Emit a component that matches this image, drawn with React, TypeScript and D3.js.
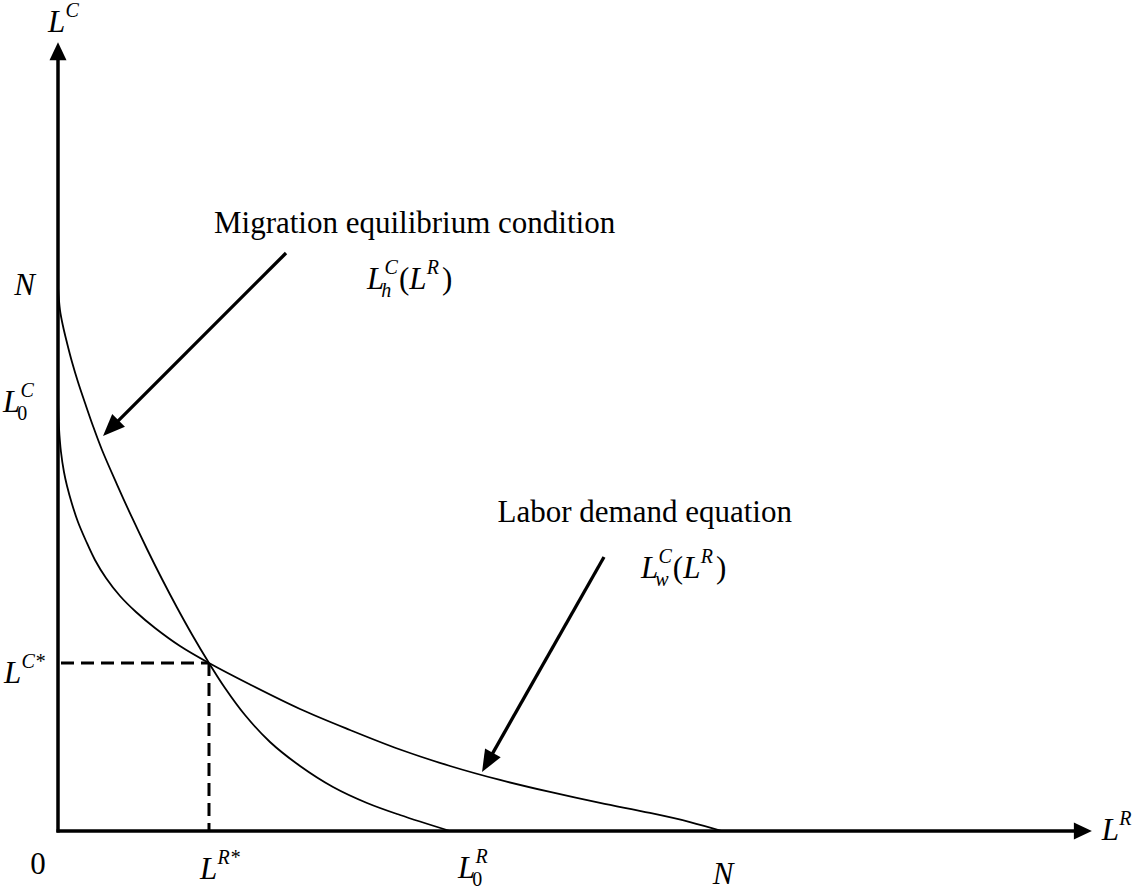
import React from 'react';
import * as d3 from 'd3';

const W = 1138;
const H = 892;
const FONT = "'Liberation Serif','Times New Roman',Times,serif";

// Model units: N = 100 on both axes
const N_VALUE = 100;
const LR_AXIS_MAX = 155.7;
const LC_AXIS_MAX = 145.0;

// Migration equilibrium condition  L_h^C(L^R)
const migrationLR = [0, 0.3, 0.75, 1.36, 2.11, 3.01, 4.07, 5.27, 6.63, 8.89, 11.14, 13.4, 15.66, 17.92, 20.18, 22.74, 25.15, 28.16, 31.93, 36.45, 41.42, 46.54, 51.51, 59.04];
const migrationLC = [100, 95.77, 92.83, 89.71, 86.21, 82.54, 78.68, 74.45, 70.04, 63.69, 57.63, 51.84, 46.32, 41.08, 36.12, 30.88, 26.29, 21.32, 16.36, 11.95, 8.09, 5.15, 2.94, 0];

// Labor demand equation  L_w^C(L^R)
const laborLR = [0, 0.15, 0.45, 0.9, 1.36, 2.11, 3.01, 4.22, 5.57, 7.23, 9.34, 11.75, 14.61, 18.37, 22.74, 28.92, 36.45, 43.98, 51.51, 59.04, 66.57, 74.1, 81.63, 89.16, 95.18, 100];
const laborLC = [79.23, 74.08, 69.67, 65.99, 63.42, 60.11, 56.8, 53.31, 49.82, 46.51, 43.2, 40.26, 37.32, 34.01, 30.88, 26.93, 22.43, 18.57, 14.98, 11.95, 9.38, 7.17, 5.15, 3.31, 1.65, 0];

// Key values
const LR_STAR = 22.74;
const LC_STAR = 30.88;
const LR_0 = 59.04;
const LC_0 = 79.23;

// Annotation arrows (model units): [from, to]
const migrationArrow = [[34.34, 106.25], [6.78, 72.61]];
const laborArrow = [[82.23, 50.37], [63.86, 10.85]];

// Annotation text anchors (model units)
const migrationTitlePos = [23.49, 109.93];
const migrationFormulaPos = [46.54, 99.63];
const laborTitleEndPos = [110.54, 56.8];
const laborFormulaPos = [87.8, 46.51];

const SIZE = 31;
const SMALL = 20;
const SUP_UP = 0.47 * SIZE;
const SUB_DOWN = 0.27 * SIZE;

function arrowHead(x1: number, y1: number, x2: number, y2: number, len: number, half: number) {
  const dx = x2 - x1, dy = y2 - y1;
  const d = Math.sqrt(dx * dx + dy * dy);
  const ux = dx / d, uy = dy / d;
  const bx = x2 - ux * len, by = y2 - uy * len;
  const px = -uy, py = ux;
  return {
    points: `${x2},${y2} ${bx + px * half},${by + py * half} ${bx - px * half},${by - py * half}`,
    bx: x2 - ux * (len - 2),
    by: y2 - uy * (len - 2),
  };
}

// tspans for an italic L with optional superscript / subscript (stacked)
function lParts(x: number, y: number, sup?: string, sub?: string, subItalic = true, key = 'l') {
  const parts: React.ReactNode[] = [];
  parts.push(
    <tspan key={key + 'b'} x={x} y={y} fontSize={SIZE} fontStyle="italic">L</tspan>
  );
  if (sup) {
    parts.push(
      <tspan key={key + 'p'} x={x + 0.565 * SIZE} y={y - SUP_UP} fontSize={SMALL} fontStyle="italic">{sup}</tspan>
    );
  }
  if (sub) {
    parts.push(
      <tspan key={key + 's'} x={x + 0.46 * SIZE} y={y + SUB_DOWN} fontSize={SMALL} fontStyle={subItalic ? 'italic' : 'normal'}>{sub}</tspan>
    );
  }
  return parts;
}

function MathL({ x, y, sup, sub, subItalic = true }: { x: number; y: number; sup?: string; sub?: string; subItalic?: boolean }) {
  return (
    <text fontFamily={FONT} fill="#000">
      {lParts(x, y, sup, sub, subItalic)}
    </text>
  );
}

function FuncLabel({ x, y, sub }: { x: number; y: number; sub: string }) {
  const parenX = x + 0.565 * SIZE + 0.667 * SMALL + 1;
  const innerL = parenX + 0.333 * SIZE;
  const closeX = innerL + 0.565 * SIZE + 0.611 * SMALL + 3;
  return (
    <text fontFamily={FONT} fill="#000">
      {lParts(x, y, 'C', sub, true, 'a')}
      <tspan x={parenX} y={y} fontSize={SIZE} fontStyle="normal">(</tspan>
      {lParts(innerL, y, 'R', undefined, true, 'b')}
      <tspan x={closeX} y={y} fontSize={SIZE} fontStyle="normal">)</tspan>
    </text>
  );
}

export default function App() {
  const x = d3.scaleLinear().domain([0, N_VALUE]).range([58, 722]);
  const y = d3.scaleLinear().domain([0, N_VALUE]).range([831, 287]);

  const line = d3
    .line<[number, number]>()
    .x((d) => x(d[0]))
    .y((d) => y(d[1]))
    .curve(d3.curveCatmullRom.alpha(0.5));

  const migPts = migrationLR.map((v, i) => [v, migrationLC[i]] as [number, number]);
  const labPts = laborLR.map((v, i) => [v, laborLC[i]] as [number, number]);

  const x0 = x(0), y0 = y(0);
  const xEnd = x(LR_AXIS_MAX), yEnd = y(LC_AXIS_MAX);

  const vHead = arrowHead(x0, y0, x0, yEnd, 18, 8.5);
  const hHead = arrowHead(x0, y0, xEnd, y0, 18, 8.5);

  const annArrows = [migrationArrow, laborArrow].map((a) => {
    const [f, t] = a;
    const fx = x(f[0]), fy = y(f[1]), tx = x(t[0]), ty = y(t[1]);
    const h = arrowHead(fx, fy, tx, ty, 22, 9);
    return { fx, fy, h };
  });

  return (
    <svg width={W} height={H} style={{ position: 'absolute', left: 0, top: 0, display: 'block', background: '#fff' }}>
      <rect x={0} y={0} width={W} height={H} fill="#fff" />
      {/* axes */}
      <line x1={x0} y1={y0 + 1.5} x2={vHead.bx} y2={vHead.by} stroke="#000" strokeWidth={3.5} />
      <polygon points={vHead.points} fill="#000" />
      <line x1={x0 - 1.5} y1={y0} x2={hHead.bx} y2={hHead.by} stroke="#000" strokeWidth={3.5} />
      <polygon points={hHead.points} fill="#000" />

      {/* dashed equilibrium guides */}
      <line x1={x0 + 3} y1={y(LC_STAR)} x2={x(LR_STAR)} y2={y(LC_STAR)} stroke="#000" strokeWidth={3} strokeDasharray="13,7" />
      <line x1={x(LR_STAR)} y1={y(LC_STAR)} x2={x(LR_STAR)} y2={y0} stroke="#000" strokeWidth={3} strokeDasharray="13,7" />

      {/* curves */}
      <path d={line(migPts) || ''} fill="none" stroke="#000" strokeWidth={1.8} />
      <path d={line(labPts) || ''} fill="none" stroke="#000" strokeWidth={1.8} />

      {/* annotation arrows */}
      {annArrows.map((a, i) => (
        <g key={i}>
          <line x1={a.fx} y1={a.fy} x2={a.h.bx} y2={a.h.by} stroke="#000" strokeWidth={3.3} />
          <polygon points={a.h.points} fill="#000" />
        </g>
      ))}

      {/* axis titles */}
      <MathL x={x0 - 10} y={32} sup="C" />
      <MathL x={xEnd + 10} y={y0 + 9} sup="R" />

      {/* vertical axis labels */}
      <text x={x0 - 23} y={y(N_VALUE) + 8} fontFamily={FONT} fontSize={SIZE} fontStyle="italic" textAnchor="end">N</text>
      <MathL x={3} y={y(LC_0) + 12} sup="C" sub="0" subItalic={false} />
      <MathL x={4} y={y(LC_STAR) + 20} sup="C*" />

      {/* horizontal axis labels */}
      <text x={x0 - 20} y={y0 + 43} fontFamily={FONT} fontSize={SIZE} textAnchor="middle">0</text>
      <MathL x={x(LR_STAR) - 9} y={y0 + 48} sup="R*" />
      <MathL x={x(LR_0) + 8} y={y0 + 47} sup="R" sub="0" subItalic={false} />
      <text x={x(N_VALUE) + 1} y={y0 + 53} fontFamily={FONT} fontSize={SIZE} fontStyle="italic" textAnchor="middle">N</text>

      {/* annotations */}
      <text x={x(migrationTitlePos[0])} y={y(migrationTitlePos[1])} fontFamily={FONT} fontSize={SIZE}>Migration equilibrium condition</text>
      <FuncLabel x={x(migrationFormulaPos[0])} y={y(migrationFormulaPos[1])} sub="h" />
      <text x={x(laborTitleEndPos[0])} y={y(laborTitleEndPos[1])} fontFamily={FONT} fontSize={SIZE} textAnchor="end">Labor demand equation</text>
      <FuncLabel x={x(laborFormulaPos[0])} y={y(laborFormulaPos[1])} sub="w" />
    </svg>
  );
}
